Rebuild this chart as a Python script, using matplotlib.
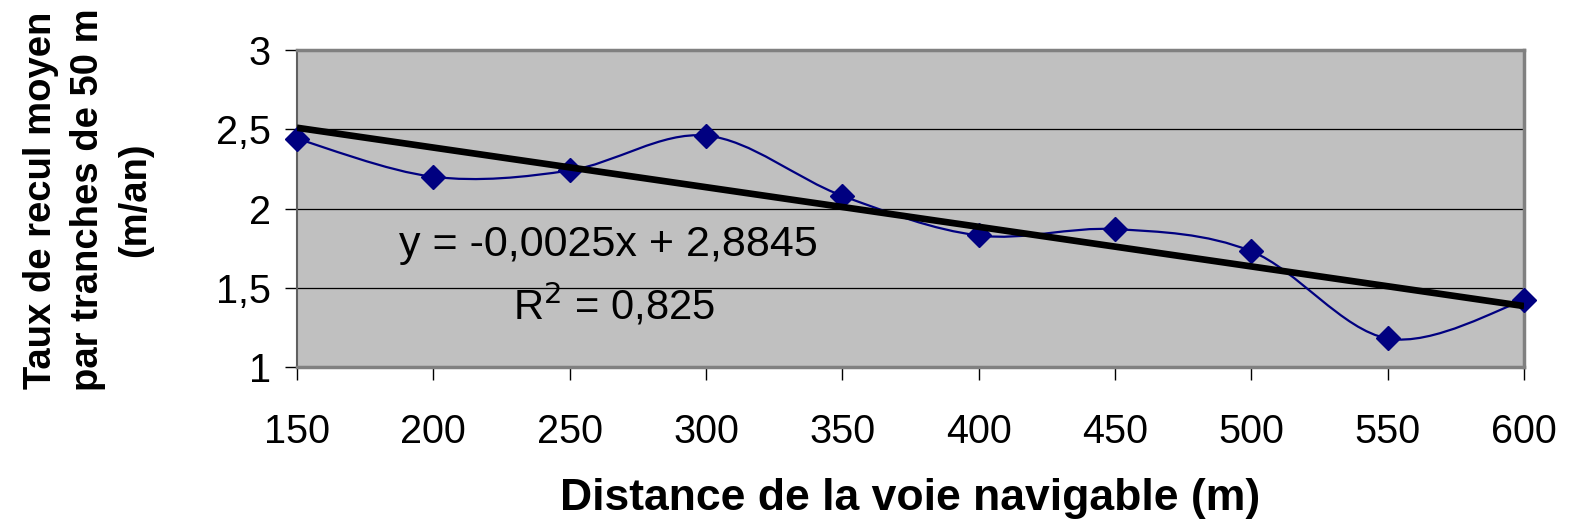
import numpy as np
import matplotlib
matplotlib.use("Agg")
import matplotlib.pyplot as plt
from matplotlib.path import Path
from matplotlib.patches import PathPatch
from matplotlib.ticker import FuncFormatter

plt.rcParams['font.family'] = ['Liberation Sans', 'DejaVu Sans']

# data
distance = [150, 200, 250, 300, 350, 400, 450, 500, 550, 600]
recul = [2.44, 2.20, 2.24, 2.46, 2.08, 1.83, 1.87, 1.73, 1.18, 1.42]
slope = -0.0025
intercept = 2.8845
r2_text = "0,825"

fig = plt.figure(figsize=(15.72, 5.29), dpi=100)
ax = fig.add_axes([0.1889, 0.3062, 0.7806, 0.5993])
ax.set_facecolor('#c0c0c0')

# smoothed line (Excel style), bezier segments through the points
x = np.array(distance, dtype=float)
y = np.array(recul, dtype=float)
verts = [(x[0], y[0])]
codes = [Path.MOVETO]
n = len(x)
for i in range(n - 1):
    p0 = np.array([x[max(i - 1, 0)], y[max(i - 1, 0)]])
    p1 = np.array([x[i], y[i]])
    p2 = np.array([x[i + 1], y[i + 1]])
    p3 = np.array([x[min(i + 2, n - 1)], y[min(i + 2, n - 1)]])
    c1 = p1 + (p2 - p0) / 6
    c2 = p2 - (p3 - p1) / 6
    verts += [tuple(c1), tuple(c2), tuple(p2)]
    codes += [Path.CURVE4] * 3
ax.add_patch(PathPatch(Path(verts, codes), facecolor='none', edgecolor='#000080',
                       lw=1.6, zorder=3))
ax.plot(distance, recul, linestyle='none', marker='D', markersize=12.5,
        color='#000080', zorder=4, clip_on=False)

# trend line
tx = np.array([distance[0], distance[-1]])
ax.plot(tx, slope * tx + intercept, color='black', lw=4.8, zorder=5, solid_capstyle='butt')

ax.set_xlim(150, 600)
ax.set_ylim(1, 3)
ax.set_xticks(distance)
ax.set_yticks([1, 1.5, 2, 2.5, 3])
ax.yaxis.set_major_formatter(FuncFormatter(lambda v, p: ('%g' % v).replace('.', ',')))
ax.grid(axis='y', color='black', lw=0.9, zorder=1)
ax.set_axisbelow(True)

for s in ['top', 'right', 'bottom']:
    ax.spines[s].set_color('#808080')
ax.spines['top'].set_linewidth(2.5)
ax.spines['right'].set_linewidth(2.5)
ax.spines['bottom'].set_linewidth(2.5)
ax.spines['left'].set_color('#606060')
ax.spines['left'].set_linewidth(1.5)

ax.tick_params(axis='both', labelsize=28.5, length=9, width=1, color='black', direction='out')
ax.tick_params(axis='x', pad=24)
ax.tick_params(axis='y', pad=10)

fig.text(0.579, 0.058, 'Distance de la voie navigable (m)', fontsize=32, fontweight='bold',
         ha='center', va='center')
fig.text(0.056, 0.622, 'Taux de recul moyen\npar tranches de 50 m\n(m/an)', fontsize=27.5,
         fontweight='bold', rotation=90, ha='center', va='center', multialignment='center',
         linespacing=1.4)

ax.text(0.083, 0.385, 'y = -0,0025x + 2,8845', transform=ax.transAxes, fontsize=31,
        va='center', ha='left', zorder=6)
ax.text(0.176, 0.195, r'R$^2$ = ' + r2_text, transform=ax.transAxes, fontsize=30,
        va='center', ha='left', zorder=6)

fig.savefig('out.png', dpi=100)
